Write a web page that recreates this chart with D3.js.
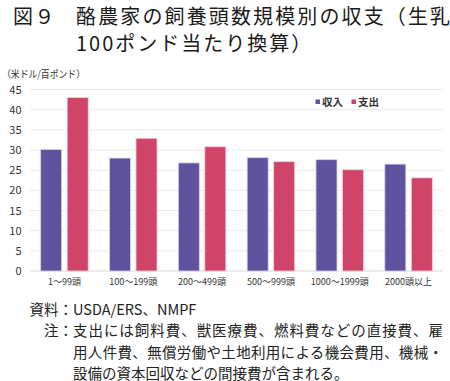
<!DOCTYPE html>
<html><head><meta charset="utf-8">
<script src="https://cdn.jsdelivr.net/npm/d3@7"></script>
<style>
html,body{margin:0;padding:0;background:#fff;}
svg{display:block;font-family:"Noto Sans CJK JP","Noto Sans",sans-serif;}
</style></head>
<body>
<svg id="c" width="450" height="381"></svg>
<script>
const categories = ["1～99頭","100～199頭","200～499頭","500～999頭","1000～1999頭","2000頭以上"];
const seriesNames = ["収入","支出"];
const income = [30.1, 28.0, 26.8, 28.1, 27.6, 26.5];
const expense = [43.0, 32.9, 30.8, 27.1, 25.1, 23.1];
const yTicks = [0,5,10,15,20,25,30,35,40,45];
const colors = ["#5f53a0","#cf4468"];
const strokes = ["#d9d3ee","#f6cdd8"];

const svg = d3.select("#c");
const x0 = d3.scaleBand().domain(categories).range([30, 443]);
const x1 = d3.scaleBand().domain(seriesNames).range([0, x0.bandwidth()]).paddingInner(0.2075).paddingOuter(0.402);
const y = d3.scaleLinear().domain([0,45]).range([271, 89.5]);

// gridlines
svg.append("g").selectAll("line").data(yTicks).join("line")
  .attr("x1",30).attr("x2",443)
  .attr("y1",d=>y(d)).attr("y2",d=>y(d))
  .attr("stroke",d=>d===0?"#d9d9d9":"#ebebeb").attr("stroke-width",1);

// y axis labels
const yAxis = d3.axisLeft(y).tickValues(yTicks).tickSize(0).tickPadding(0);
const ga = svg.append("g").attr("transform","translate(21.5,0)").call(yAxis);
ga.select(".domain").remove();
ga.selectAll("text").attr("font-size",11).attr("fill","#333").attr("font-family","'Noto Sans CJK JP',sans-serif");

// x axis labels
const xAxis = d3.axisBottom(x0).tickSize(0).tickPadding(0);
const gx = svg.append("g").attr("transform","translate(0,279)").call(xAxis);
gx.select(".domain").remove();
gx.selectAll("text").attr("font-size",9).attr("fill","#333").attr("font-family","'Noto Sans CJK JP',sans-serif");

// bars
const data = categories.map((c,i)=>({c, vals:[income[i], expense[i]]}));
const grp = svg.append("g").selectAll("g").data(data).join("g")
  .attr("transform",d=>`translate(${x0(d.c)},0)`);
grp.selectAll("rect").data(d=>d.vals.map((v,j)=>({s:seriesNames[j], v, j}))).join("rect")
  .attr("x",d=>x1(d.s)).attr("width",x1.bandwidth())
  .attr("y",d=>y(d.v)).attr("height",d=>y(0)-y(d.v))
  .attr("fill",d=>colors[d.j]).attr("stroke",d=>strokes[d.j]).attr("stroke-width",0.8);

// unit label
svg.append("text").attr("x",2).attr("y",77.5).attr("font-size",10).attr("fill","#333")
  .attr("textLength",83).attr("lengthAdjust","spacingAndGlyphs")
  .text("（米ドル/百ポンド）");

// legend
const lg = svg.append("g");
const lx = [315.5, 351.5];
seriesNames.forEach((s,i)=>{
  lg.append("rect").attr("x",lx[i]).attr("y",99.5).attr("width",4.5).attr("height",4.5).attr("fill",colors[i]);
  lg.append("text").attr("x",lx[i]+6.5).attr("y",105.5).attr("font-size",10.5).attr("font-weight","bold").attr("fill","#333").text(s);
});

// title
const tfs = 20;
svg.append("text").attr("x",13).attr("y",23.5).attr("font-size",tfs).attr("fill","#1a1a1a")
  .attr("letter-spacing",1.5).text("図９");
svg.append("text").attr("x",76).attr("y",23.5).attr("font-size",tfs).attr("fill","#1a1a1a")
  .attr("textLength",374).attr("lengthAdjust","spacing").text("酪農家の飼養頭数規模別の収支（生乳");
svg.append("text").attr("x",76).attr("y",51).attr("font-size",tfs).attr("fill","#1a1a1a")
  .attr("letter-spacing",2).text("100ポンド当たり換算）");

// source / notes
const fs = 14.5;
svg.append("text").attr("x",73).attr("y",315).attr("font-size",fs).attr("text-anchor","end").attr("fill","#222").text("資料：");
svg.append("text").attr("x",73).attr("y",315).attr("font-size",fs).attr("fill","#222").text("USDA/ERS、NMPF");
svg.append("text").attr("x",73).attr("y",336).attr("font-size",fs).attr("text-anchor","end").attr("fill","#222").text("注：");
svg.append("text").attr("x",73).attr("y",336).attr("font-size",fs).attr("fill","#222")
  .attr("textLength",370).attr("lengthAdjust","spacing").text("支出には飼料費、獣医療費、燃料費などの直接費、雇");
svg.append("text").attr("x",73).attr("y",357.5).attr("font-size",fs).attr("fill","#222")
  .attr("textLength",370).attr("lengthAdjust","spacing").text("用人件費、無償労働や土地利用による機会費用、機械・");
svg.append("text").attr("x",73).attr("y",378.5).attr("font-size",fs).attr("fill","#222").text("設備の資本回収などの間接費が含まれる。");
</script>
</body></html>
